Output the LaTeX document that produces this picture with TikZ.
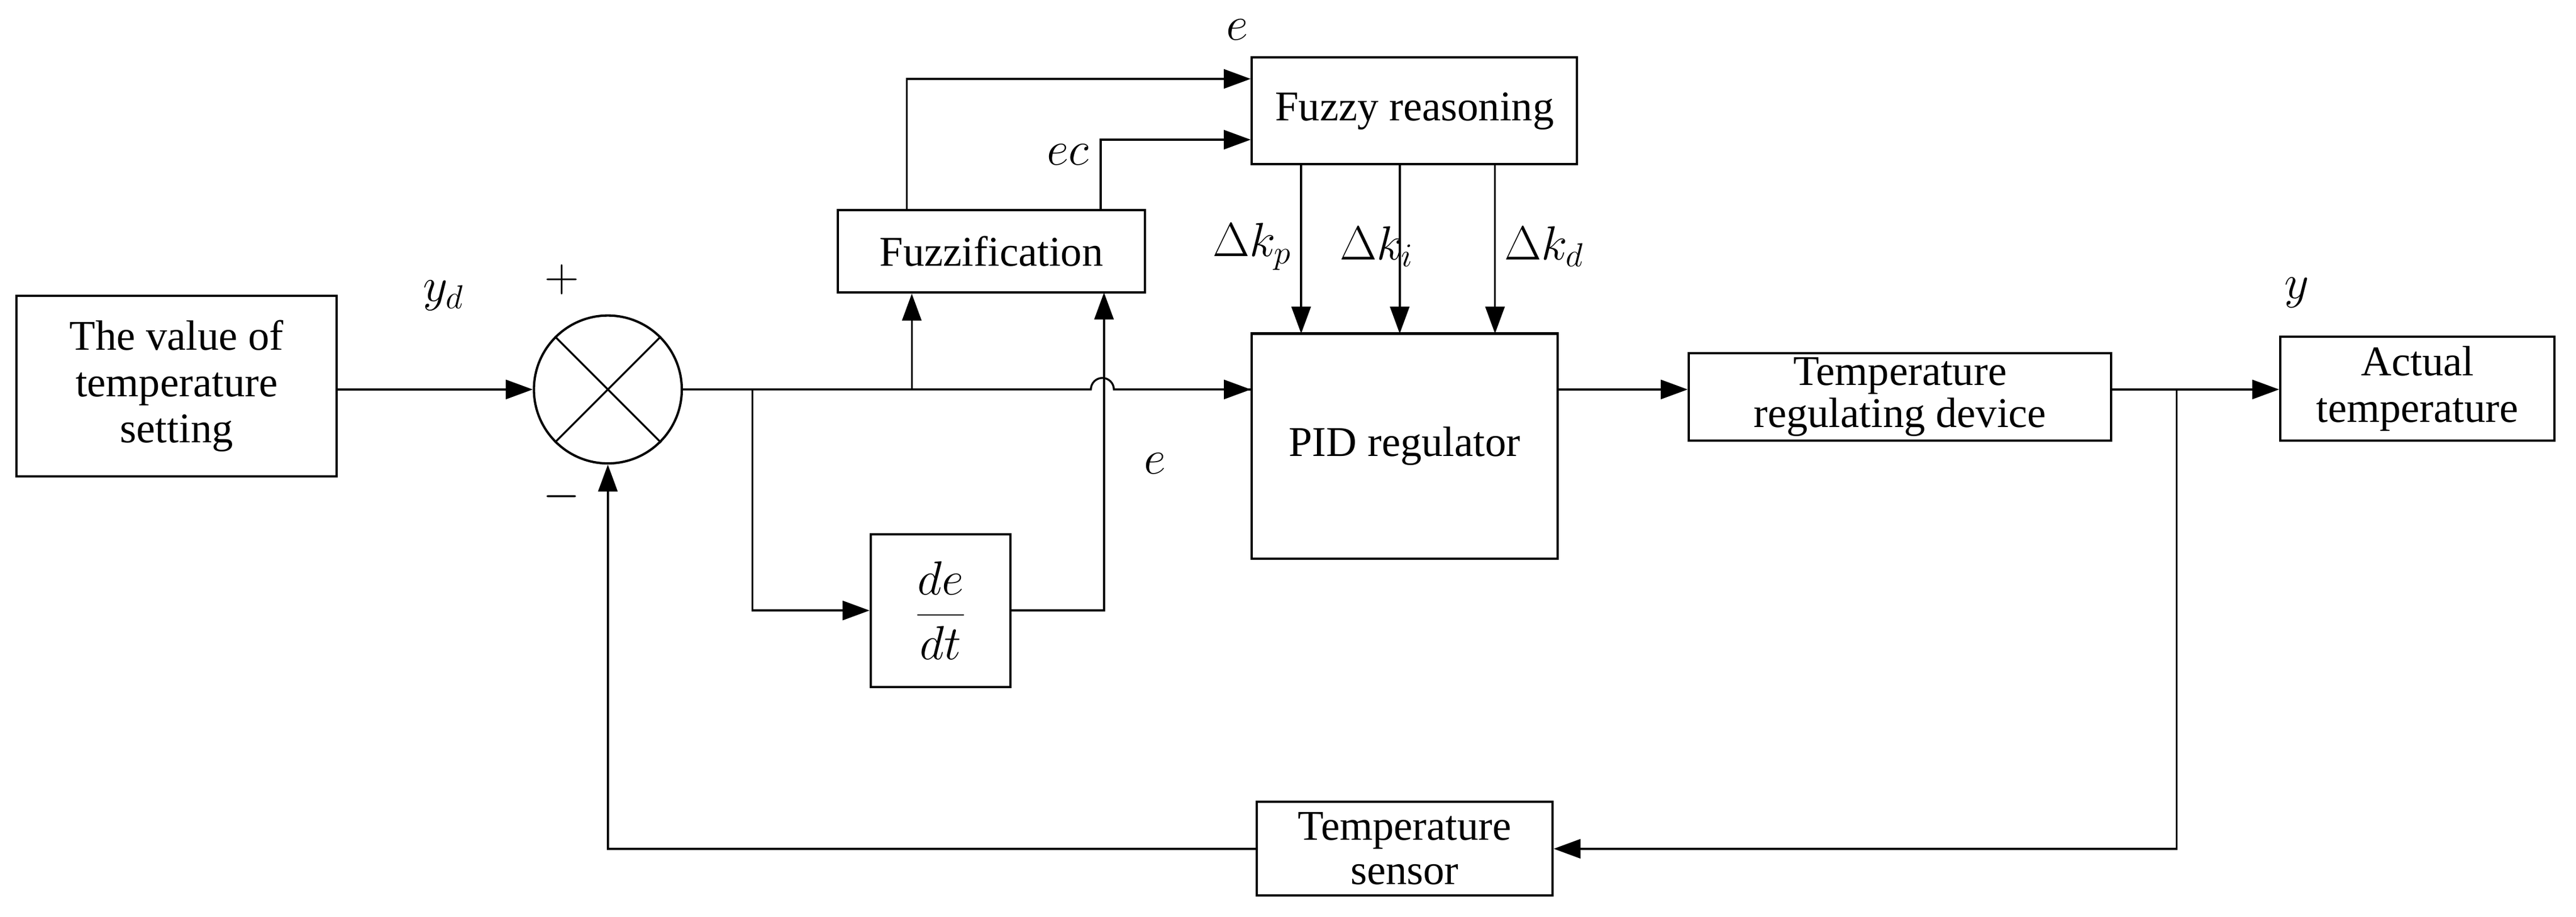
\documentclass[tikz,border=0pt]{standalone}
\usepackage{fontspec}
\setmainfont{Liberation Serif}
\usetikzlibrary{arrows.meta}
\begin{document}
\begin{tikzpicture}[x=0.03cm,y=-0.03cm,
  every node/.style={font=\fontsize{22}{24}\selectfont},
  box/.style={draw,line width=1.2pt,inner sep=0pt,align=center},
  ar/.style={-{Triangle[length=14pt,width=10pt]},line width=1pt},
  ln/.style={line width=1pt},
  lab/.style={font=\fontsize{26}{28}\selectfont}]
\useasboundingbox (0,0) rectangle (1568,558);
\node[box,minimum width=195*0.03cm,minimum height=110*0.03cm] (set) at (107.5,235) {The value of\\temperature\\setting};
\node[draw,circle,line width=1.2pt,minimum size=90*0.03cm,inner sep=0pt] (sum) at (370,237) {};
\draw[line width=1pt] (sum.north west)--(sum.south east) (sum.north east)--(sum.south west);
\node[box,minimum width=187*0.03cm,minimum height=50*0.03cm] (fz) at (603.5,153) {Fuzzification};
\node[box,minimum width=198*0.03cm,minimum height=65*0.03cm] (fr) at (861,67.5) {Fuzzy reasoning};
\node[box,minimum width=85*0.03cm,minimum height=93*0.03cm] (dd) at (572.5,371.5) {\fontsize{26}{28}\selectfont$\displaystyle\frac{de}{dt}$};
\node[box,minimum width=186*0.03cm,minimum height=137*0.03cm] (pid) at (855,271.5) {PID regulator};
\node[box,minimum width=257*0.03cm,minimum height=53*0.03cm,font=\fontsize{22}{22}\selectfont] (trd) at (1156.5,241.5) {Temperature\\regulating device};
\node[box,minimum width=167*0.03cm,minimum height=63*0.03cm] (act) at (1471.5,236.5) {Actual\\temperature};
\node[box,minimum width=180*0.03cm,minimum height=57*0.03cm,font=\fontsize{22}{23}\selectfont] (sen) at (855,516.5) {Temperature\\sensor};
% labels
\node[lab] at (270,180) {$y_d$};
\node[lab] at (342,170) {$+$};
\node[lab] at (342,302) {$-$};
\node[lab] at (753,18) {$e$};
\node[lab] at (650,94) {$ec$};
\node[lab] at (703,282) {$e$};
\node[lab] at (1398,178) {$y$};
\node[lab] at (762,150) {$\Delta k_p$};
\node[lab] at (838,150) {$\Delta k_i$};
\node[lab] at (940,150) {$\Delta k_d$};
\coordinate (j1) at (458,237);
\coordinate (j2) at (555,237);
\coordinate (j3) at (1325,237);
% connections
\draw[ar] (set.east|-sum.west) -- (sum.west);
\draw[ln] (sum.east) -- (664,237) arc[start angle=180,end angle=360,radius=7] -- (pid.west|-j1);
\draw[ar] (pid.west|-j1) -- ++(0.1,0);
\draw[ar] (j2) -- (j2|-fz.south);
\draw[ar] (j1) |- (dd.west);
\draw[ar] (dd.east) -| (672,178);
\draw[ar] (552,128) |- (fr.west|-0,48);
\draw[ar] (670,128) |- (fr.west|-0,85);
\draw[ar] (792,100) -- (792,203);
\draw[ar] (852,100) -- (852,203);
\draw[ar] (910,100) -- (910,203);
\draw[ar] (pid.east|-j1) -- (trd.west|-j1);
\draw[ar] (trd.east|-j1) -- (act.west|-j1);
\draw[ar] (j3) |- (sen.east);
\draw[ar] (sen.west) -| (sum.south);
\end{tikzpicture}
\end{document}
